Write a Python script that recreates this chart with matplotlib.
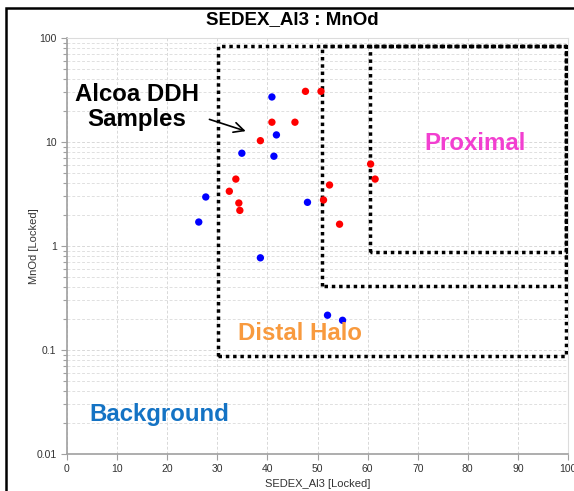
import matplotlib
matplotlib.use("Agg")
import matplotlib.pyplot as plt
from matplotlib.patches import Rectangle
from matplotlib.ticker import FixedLocator, LogLocator, NullFormatter

plt.rcParams['font.family'] = ['Liberation Sans', 'DejaVu Sans']

# Data
red_x = [47.6, 50.7, 40.9, 45.5, 38.6, 33.7, 32.4, 34.3, 34.5, 60.6, 61.5, 52.4, 51.2, 54.4]
red_y = [30.7, 30.7, 15.5, 15.5, 10.3, 4.40, 3.36, 2.59, 2.20, 6.14, 4.40, 3.86, 2.77, 1.62]
blue_x = [26.3, 27.7, 34.9, 40.9, 41.8, 41.3, 38.6, 48.0, 52.0, 55.0]
blue_y = [1.70, 2.96, 7.8, 27.1, 11.7, 7.3, 0.77, 2.63, 0.216, 0.193]

# field boxes: (x0, x1, y0, y1)
distal_box = (30.2, 99.6, 0.088, 84)
mid_box = (50.8, 99.6, 0.41, 84)
proximal_box = (60.5, 99.6, 0.88, 84)

x_ticks = [0, 10, 20, 30, 40, 50, 60, 70, 80, 90, 100]
y_ticks = [0.01, 0.1, 1, 10, 100]
y_ticklabels = ["0.01", "0.1", "1", "10", "100"]

fig = plt.figure(figsize=(5.74, 4.91), dpi=100)
ax = fig.add_axes([67/574, 1 - 454/491, (568 - 67)/574, (454 - 38)/491])

ax.set_xlim(0, 100)
ax.set_yscale('log')
ax.set_ylim(0.01, 100)

ax.xaxis.set_major_locator(FixedLocator(x_ticks))
ax.set_yticks(y_ticks)
ax.set_yticklabels(y_ticklabels)
ax.yaxis.set_minor_locator(LogLocator(base=10, subs=range(2, 10)))
ax.yaxis.set_minor_formatter(NullFormatter())

ax.grid(True, which='major', color='#d8d8d8', linestyle=(0, (3, 2)), linewidth=0.7)
ax.grid(True, which='minor', axis='y', color='#e0e0e0', linestyle=(0, (3, 2)), linewidth=0.7)
ax.set_axisbelow(True)

for s in ['left', 'bottom']:
    ax.spines[s].set_color('#a0a0a0')
    ax.spines[s].set_linewidth(1.2)
for s in ['top', 'right']:
    ax.spines[s].set_color('#dcdcdc')
    ax.spines[s].set_linewidth(0.8)

ax.tick_params(axis='both', which='major', labelsize=7.5, colors='#a0a0a0',
               labelcolor='#333333', length=4, width=0.8)
ax.tick_params(axis='y', which='minor', colors='#a0a0a0', length=3, width=0.8)

ax.set_xlabel('SEDEX_Al3 [Locked]', fontsize=8, color='#333333', labelpad=3)
ax.set_ylabel('MnOd [Locked]', fontsize=8, color='#333333', labelpad=-2)
fig.text(292/574, 1 - 20/491, 'SEDEX_Al3 : MnOd', fontsize=13.5, fontweight='bold',
         ha='center', va='center')

def draw_box(b, **kw):
    x0, x1, y0, y1 = b
    ax.plot([x0, x0, x1, x1, x0], [y0, y1, y1, y0, y0], color='black',
            linewidth=2.5, linestyle=(0, (1, 1.1)), dash_capstyle='butt',
            solid_joinstyle='miter', zorder=3, **kw)

draw_box(distal_box)
draw_box(mid_box)
draw_box(proximal_box)

ax.scatter(blue_x, blue_y, s=28, color='#0000ff', edgecolors='none', zorder=4)
ax.scatter(red_x, red_y, s=28, color='#ff0000', edgecolors='none', zorder=4)

ax.text(14, 10**(2 - (107 - 38)/104), 'Alcoa DDH\nSamples', fontsize=17.3, fontweight='bold',
        ha='center', va='center', linespacing=1.15, color='black', zorder=5)
ax.annotate('', xy=(36.2, 10**(2 - (132 - 38)/104)), xytext=(27.9, 10**(2 - (118.5 - 38)/104)),
            arrowprops=dict(arrowstyle='->', color='black', lw=1.2, mutation_scale=18), zorder=5)

ax.text(81.5, 10**(2 - (143 - 38)/104), 'Proximal', fontsize=17.3, fontweight='bold',
        ha='center', va='center', color='#f23fd0', zorder=5)
ax.text(46.5, 10**(2 - (333 - 38)/104), 'Distal Halo', fontsize=17.3, fontweight='bold',
        ha='center', va='center', color='#f89a3e', zorder=5)
ax.text(18.5, 10**(2 - (414 - 38)/104), 'Background', fontsize=17.3, fontweight='bold',
        ha='center', va='center', color='#1473c4', zorder=5)

# outer frame (left and top edges visible)
fig.patches.append(Rectangle((6/574, -0.1), 1.2, 1 - 8/491 + 0.1, transform=fig.transFigure,
                             fill=False, edgecolor='black', linewidth=1.8))

fig.savefig('out.png', dpi=100)
